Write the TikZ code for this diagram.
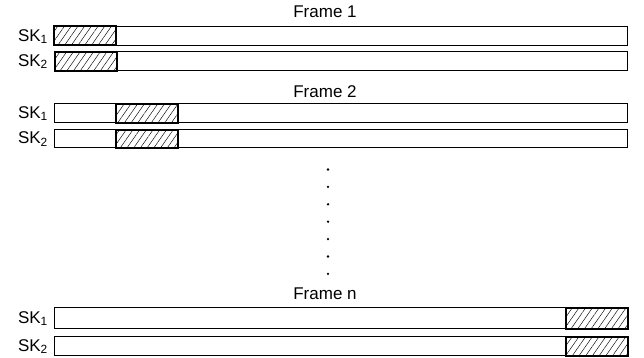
\documentclass[tikz,border=0pt]{standalone}
\usepackage{fontspec}
\setmainfont{Liberation Sans}
\usepackage{tikz}
\usetikzlibrary{patterns.meta}

\newcommand{\sklab}[1]{SK\textsubscript{#1}}

\tikzset{
  bar/.style={draw, line width=1.1pt, anchor=north west, inner sep=0pt, minimum width=573pt},
  hatchbox/.style={draw, line width=1.8pt, anchor=north west, inner sep=0pt, minimum width=62pt,
    pattern={Lines[angle=55,distance=5.5pt,line width=0.45pt]}},
  sklabel/.style={anchor=east, inner sep=0pt, font=\fontsize{17}{19}\selectfont},
  framelabel/.style={inner sep=0pt, font=\fontsize{17}{19}\selectfont},
  vdot/.style={fill, circle, inner sep=0pt, minimum size=2.6pt}
}

\begin{document}
\begin{tikzpicture}[x=1pt,y=1pt,yscale=-1]
    \useasboundingbox (0,0) rectangle (644,358);

    % Frame 1
    \node[framelabel] (f1) at (325,12) {Frame 1};
    \node[bar, minimum height=19pt] (f1a) at (54,26) {};
    \node[bar, minimum height=19pt] (f1b) at (54,51) {};
    \node[hatchbox, minimum height=19pt] (f1ah) at (54,26) {};
    \node[hatchbox, minimum height=19pt] (f1bh) at (54,51) {};
    \node[sklabel] (f1al) at (48,36.5) {\sklab{1}};
    \node[sklabel] (f1bl) at (48,61.5) {\sklab{2}};

    % Frame 2
    \node[framelabel] (f2) at (325,92) {Frame 2};
    \node[bar, minimum height=19pt] (f2a) at (54,103) {};
    \node[bar, minimum height=18pt] (f2b) at (54,129) {};
    \node[hatchbox, minimum height=19pt] (f2ah) at (115,103) {};
    \node[hatchbox, minimum height=18pt] (f2bh) at (115,129) {};
    \node[sklabel] (f2al) at (48,113.5) {\sklab{1}};
    \node[sklabel] (f2bl) at (48,139) {\sklab{2}};

    % dots
    \foreach \i in {0,...,6}
      \node[vdot] (dot\i) at (328,169.5+17.4*\i) {};

    % Frame n
    \node[framelabel] (fn) at (325,294) {Frame n};
    \node[bar, minimum height=21pt] (fna) at (54,307) {};
    \node[bar, minimum height=19pt] (fnb) at (54,336) {};
    \node[hatchbox, minimum height=21pt] (fnah) at (565,307) {};
    \node[hatchbox, minimum height=19pt] (fnbh) at (565,336) {};
    \node[sklabel] (fnal) at (48,318.5) {\sklab{1}};
    \node[sklabel] (fnbl) at (48,346.5) {\sklab{2}};

\end{tikzpicture}
\end{document}
